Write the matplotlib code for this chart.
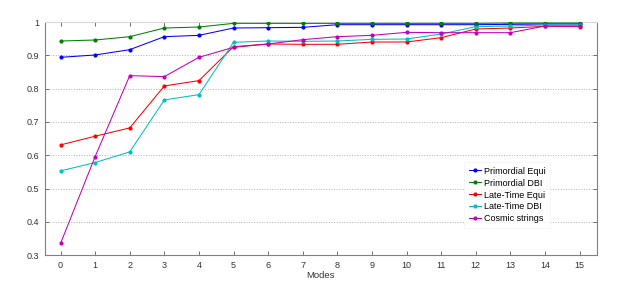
import matplotlib
matplotlib.use("Agg")
import matplotlib.pyplot as plt

# data
modes = list(range(16))
prim_equi = [0.894, 0.901, 0.917, 0.956, 0.960, 0.982, 0.983, 0.984,
             0.992, 0.992, 0.992, 0.992, 0.992, 0.993, 0.994, 0.994]
prim_dbi = [0.943, 0.946, 0.956, 0.982, 0.985, 0.996, 0.996, 0.996,
            0.996, 0.996, 0.996, 0.996, 0.996, 0.997, 0.997, 0.997]
late_equi = [0.631, 0.657, 0.682, 0.808, 0.824, 0.926, 0.934, 0.933,
             0.933, 0.940, 0.940, 0.953, 0.979, 0.982, 0.987, 0.986]
late_dbi = [0.553, 0.578, 0.610, 0.766, 0.782, 0.939, 0.943, 0.942,
            0.943, 0.948, 0.949, 0.964, 0.986, 0.988, 0.991, 0.991]
cosmic = [0.335, 0.596, 0.839, 0.836, 0.894, 0.924, 0.934, 0.947,
          0.956, 0.960, 0.969, 0.968, 0.968, 0.968, 0.988, 0.988]

labels = ["Primordial Equi", "Primordial DBI", "Late-Time Equi",
          "Late-Time DBI", "Cosmic strings"]
series = [prim_equi, prim_dbi, late_equi, late_dbi, cosmic]
colors = [(0, 0, 1), (0, 0.5, 0), (1, 0, 0), (0, 0.75, 0.75), (0.75, 0, 0.75)]

plt.rcParams['font.family'] = ['Liberation Sans', 'DejaVu Sans']

fig = plt.figure(figsize=(6.23, 2.86), dpi=100)
ax = fig.add_axes([0.0722, 0.108, 0.8858, 0.815])

# grey band behind the top of the curves
ax.fill_between([12.8, 15], [0.994, 0.994], [1.0, 1.0], color='0.55', alpha=0.6, lw=0, zorder=1)

for y, lab, c in zip(series, labels, colors):
    ax.plot(modes, y, color=c, lw=0.75, marker='.', ms=4, label=lab, zorder=3)

ax.set_xlim(-0.45, 15.5)
ax.set_ylim(0.3, 1.0)
ax.set_xticks(modes)
ax.set_yticks([0.3, 0.4, 0.5, 0.6, 0.7, 0.8, 0.9, 1.0])
ax.set_yticklabels(["0.3", "0.4", "0.5", "0.6", "0.7", "0.8", "0.9", "1"])
ax.yaxis.grid(True, linestyle=':', color='0.7', lw=0.7)
ax.tick_params(direction='in', top=True, right=True, labelsize=6.5,
               length=3, width=0.6, colors='0.35', labelcolor='0.2', pad=4)
for s in ax.spines.values():
    s.set_color('0.5')
    s.set_linewidth(0.8)
ax.spines['top'].set_color('0.85')

ax.set_xlabel("Modes", fontsize=6.8, color='0.2', labelpad=1)

leg = ax.legend(loc='lower right', bbox_to_anchor=(0.924, 0.097), fontsize=6.5,
                frameon=True, handlelength=1.4, handletextpad=0.3,
                labelspacing=0.33, borderpad=0.5, fancybox=False)
leg.get_frame().set_edgecolor('0.95')
leg.get_frame().set_linewidth(0.5)

fig.savefig("out.png", dpi=100)
